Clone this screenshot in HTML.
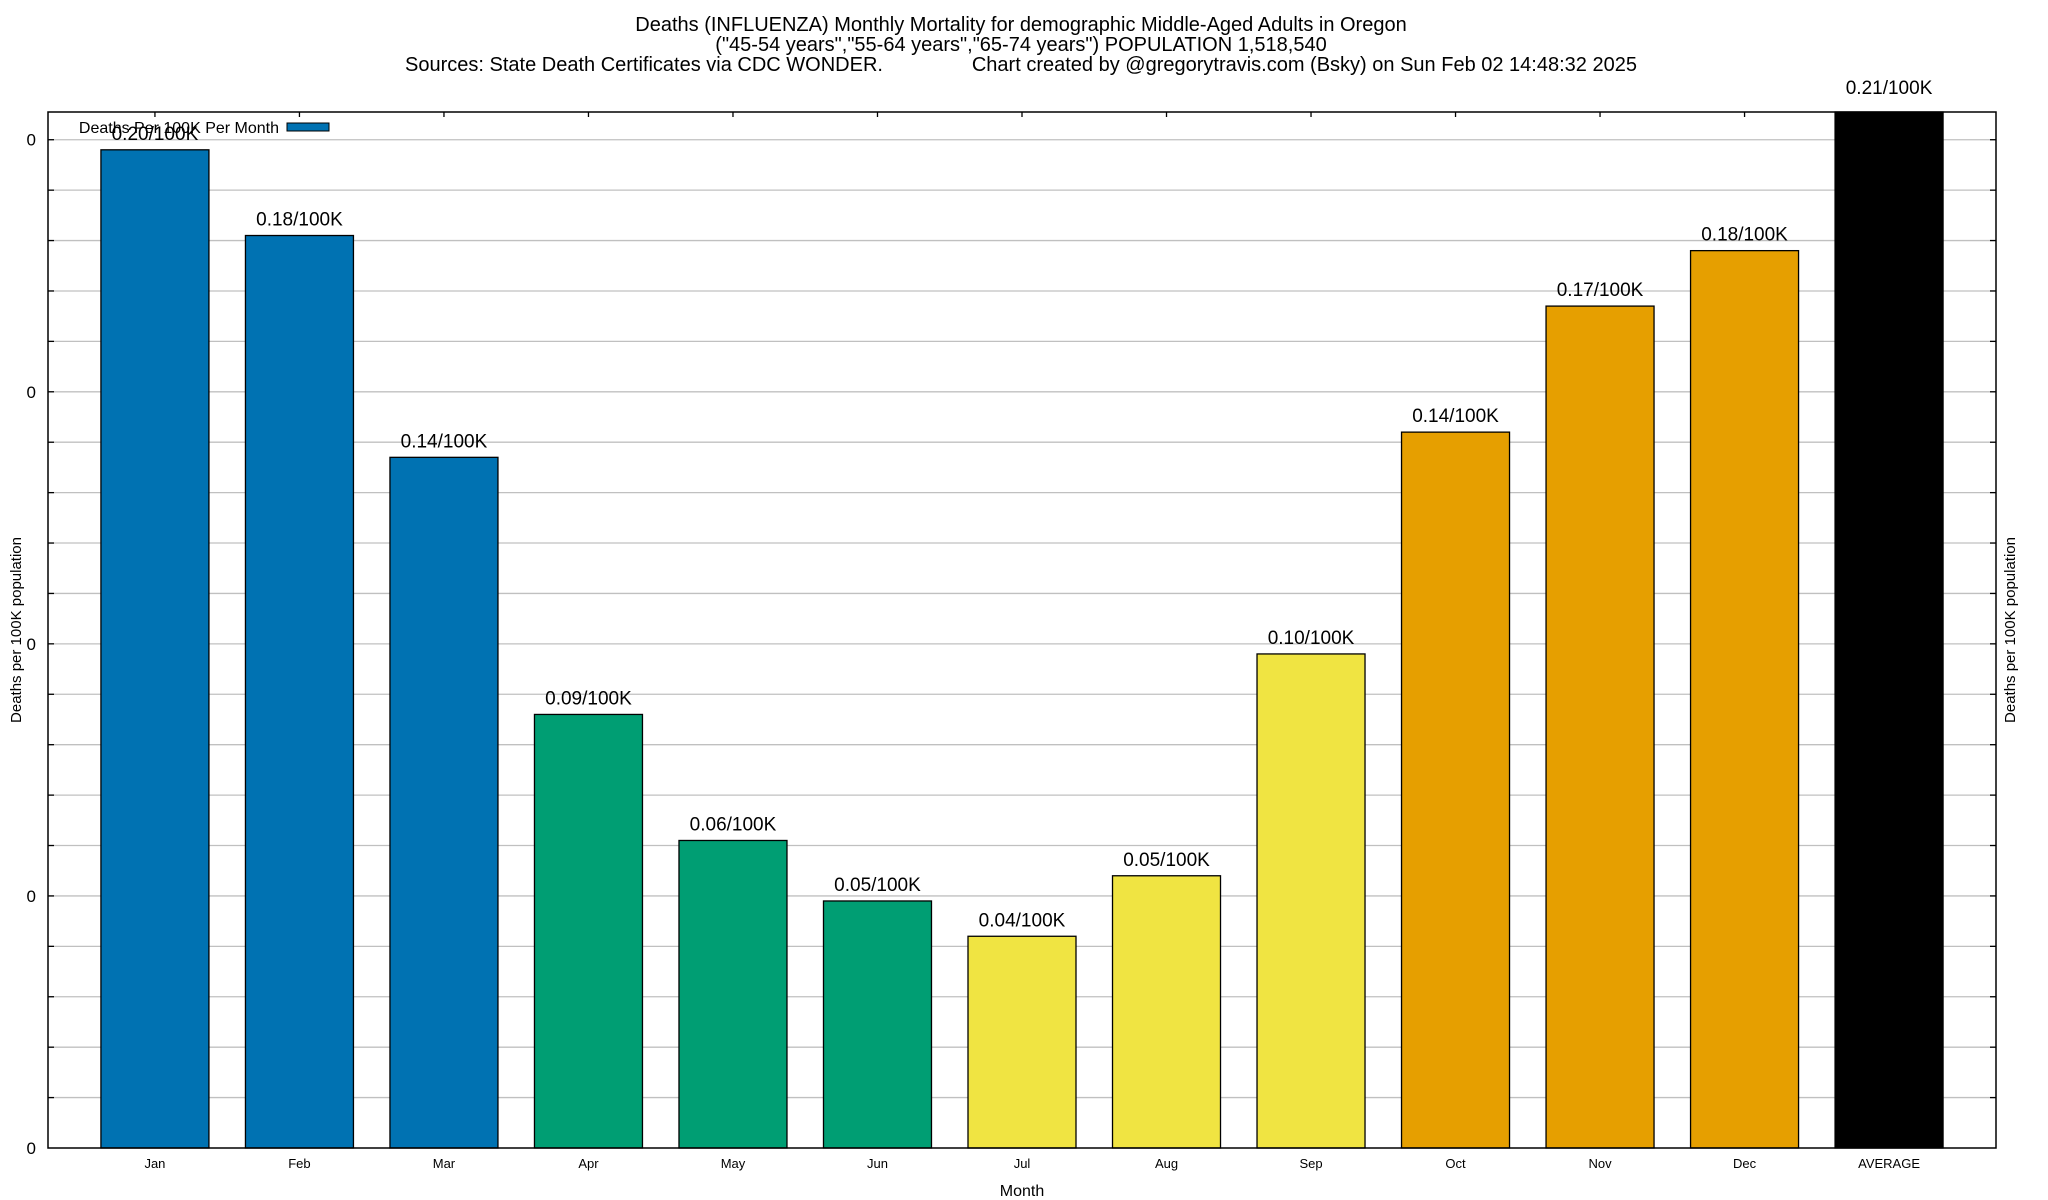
<!DOCTYPE html>
<html><head><meta charset="utf-8"><style>
html,body{margin:0;padding:0;background:#fff;}
svg{display:block;font-family:"Liberation Sans",Arial,sans-serif;}
</style></head><body>
<svg id="chart" width="2048" height="1200" viewBox="0 0 2048 1200">
<g font-size="20" text-anchor="middle" fill="#000">
<text x="1021" y="31">Deaths (INFLUENZA) Monthly Mortality for demographic Middle-Aged Adults in Oregon</text>
<text x="1021" y="51">("45-54 years","55-64 years","65-74 years") POPULATION 1,518,540</text>
<text x="1021" y="71" xml:space="preserve">Sources: State Death Certificates via CDC WONDER.                Chart created by @gregorytravis.com (Bsky) on Sun Feb 02 14:48:32 2025</text>
</g>
<g id="grid"></g>
<g id="bars"></g>
<g id="axes"></g>
<text x="1022" y="1196" font-size="16" text-anchor="middle">Month</text>
<text transform="translate(21,630) rotate(-90)" font-size="15" text-anchor="middle">Deaths per 100K population</text>
<text transform="translate(2015,630) rotate(-90)" font-size="15" text-anchor="middle">Deaths per 100K population</text>
<g>
<text x="279" y="133" font-size="16" text-anchor="end">Deaths Per 100K Per Month</text>
<rect x="287" y="123" width="42" height="8" fill="#0072b2" stroke="#000" stroke-width="1"/>
</g>
</svg>
<script>
const categories = ["Jan","Feb","Mar","Apr","May","Jun","Jul","Aug","Sep","Oct","Nov","Dec","AVERAGE"];
const values = [0.198,0.181,0.137,0.086,0.061,0.049,0.042,0.054,0.098,0.142,0.167,0.178,0.21];
const valueLabels = ["0.20/100K","0.18/100K","0.14/100K","0.09/100K","0.06/100K","0.05/100K","0.04/100K","0.05/100K","0.10/100K","0.14/100K","0.17/100K","0.18/100K","0.21/100K"];
const barColors = ["#0072b2","#0072b2","#0072b2","#009e73","#009e73","#009e73","#f0e442","#f0e442","#f0e442","#e69f00","#e69f00","#e69f00","#000000"];
const yTicks = [0,0.05,0.1,0.15,0.2];
const yTickLabels = ["0","0","0","0","0"];

const NS="http://www.w3.org/2000/svg";
const L=48,R=1996,T=112,B=1148,YMAX=0.2055;
const sp=(R-L)/(categories.length-1+1.48);
function xs(i){return L+(i+0.74)*sp;}
function ys(v){return B-(v/YMAX)*(B-T);}
function mk(tag,attrs,parent){const e=document.createElementNS(NS,tag);for(const k in attrs)e.setAttribute(k,attrs[k]);parent.appendChild(e);return e;}
const grid=document.getElementById('grid'),bars=document.getElementById('bars'),axes=document.getElementById('axes');
for(let k=1;k*0.01<YMAX;k++){
  const y=ys(k*0.01);
  const g=mk('line',{x1:L,x2:R,y1:y,y2:y,stroke:'#c0c0c0','stroke-width':1.3},grid);
  
  
  const t1=mk('line',{x1:L,x2:L+6,y1:y,y2:y,stroke:'#000','stroke-width':1.3},axes);
  
  
  const t2=mk('line',{x1:R-6,x2:R,y1:y,y2:y,stroke:'#000','stroke-width':1.3},axes);
  
  
}
yTicks.forEach((v,i)=>{
  const t=mk('text',{x:L-12,y:ys(v)+6,'font-size':17,'text-anchor':'end'},axes);
  t.textContent=yTickLabels[i];
  
  
});
const bw=108;
categories.forEach((c,i)=>{
  const x=xs(i), top=Math.max(ys(values[i]),T);
  const r=mk('rect',{x:x-bw/2,y:top,width:bw,height:B-top,fill:barColors[i],stroke:'#000','stroke-width':1.3},bars);
  
  
  const lt=Math.max(ys(values[i]),T-8);
  const lab=mk('text',{x:x,y:lt-10,'font-size':19,'text-anchor':'middle'},bars);
  lab.textContent=valueLabels[i];
  
  
  const tl=mk('text',{x:x,y:B+20,'font-size':13,'text-anchor':'middle'},axes);
  tl.textContent=c;
  
  
  const tk=mk('line',{x1:x,x2:x,y1:T,y2:T+5,stroke:'#000','stroke-width':1.3},axes);
  
  
});
const fr=mk('rect',{x:L,y:T,width:R-L,height:B-T,fill:'none',stroke:'#000','stroke-width':1.5},axes);


</script>
</body></html>
